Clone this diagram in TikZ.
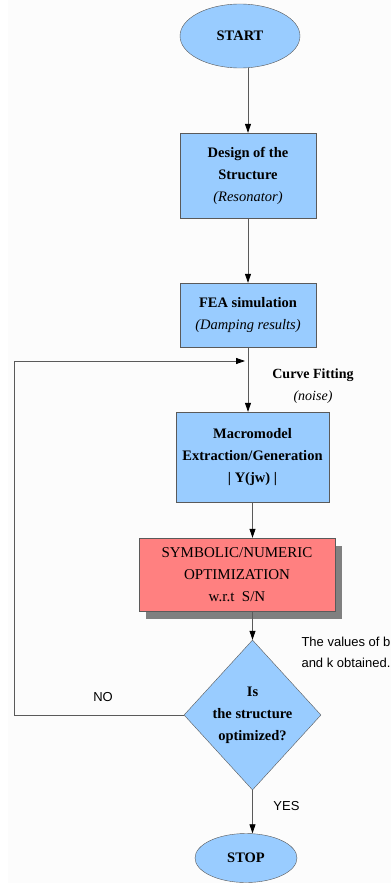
\documentclass[tikz,border=0pt]{standalone}
\usepackage{fontspec}
\setmainfont{Liberation Serif}
\newfontfamily\labelfont{Liberation Sans}
\usetikzlibrary{shapes.geometric,arrows.meta,shadows}
\definecolor{boxblue}{HTML}{99CCFF}
\definecolor{boxred}{HTML}{FF8080}
\definecolor{edgegray}{HTML}{5A5A5A}

\begin{document}
\begin{tikzpicture}[x=1pt,y=-1pt,
  blockfill/.style={draw=edgegray,fill=boxblue,align=center,inner sep=0pt,
    font=\fontsize{14.5}{22}\selectfont\bfseries},
  terminal/.style={blockfill,ellipse},
  process/.style={blockfill,rectangle},
  flow/.style={draw=edgegray,line width=0.8pt,-{Triangle[length=9pt,width=6pt,color=black]}},
  sidenote/.style={font=\fontsize{13}{21}\selectfont\labelfont}]
%% frame
\clip (0,0) rectangle (391,883);
\fill[white] (0,0) rectangle (391,883);
\fill[gray!2] (8,0) rectangle (391,883);
%% blocks
\node[terminal,minimum width=120pt,minimum height=64pt] (start) at (240,36) {START};
\node[process,minimum width=136pt,minimum height=85pt] (design) at (248,175.5)
  {Design of the\\Structure\\{\mdseries\itshape (Resonator)}};
\node[process,minimum width=136pt,minimum height=64pt] (fea) at (248,315)
  {FEA simulation\\{\mdseries\itshape (Damping results)}};
\node[process,minimum width=153pt,minimum height=90pt] (macro) at (252.5,457)
  {Macromodel\\Extraction/Generation\\| Y(jw) |};
\node[process,fill=boxred,font=\fontsize{15}{22}\selectfont,minimum width=196pt,minimum height=73pt,
  drop shadow={shadow xshift=7pt,shadow yshift=-8pt,fill=gray,opacity=1}] (opt) at (237,574.5)
  {SYMBOLIC/NUMERIC\\OPTIMIZATION\\w.r.t~~S/N};
\node[blockfill,diamond,minimum width=137pt,minimum height=150pt] (dec) at (252.5,715)
  {Is\\the structure\\optimized?};
\node[terminal,minimum width=102pt,minimum height=49pt] (stop) at (246,858) {STOP};
%% labels
\node[font=\fontsize{14}{22}\selectfont\bfseries,align=center] (curvefit) at (313,386)
  {Curve Fitting\\{\mdseries\itshape (noise)}};
\node[sidenote,anchor=west,align=left] (values) at (298,652.5) {The values of b\\and k obtained.};
\node[sidenote] (no) at (103,697) {NO};
\node[sidenote] (yes) at (286.5,806) {YES};
%% arrows
\draw[flow] (design.north |- start.south) -- (design.north);
\draw[flow] (design) -- (fea);
\draw[flow] (fea.south) -- (fea.south |- macro.north);
\draw[flow] (macro.south) -- (macro.south |- opt.north);
\draw[flow] (dec.north |- opt.south) -- (dec.north);
\draw[flow] (dec.south) -- (dec.south |- stop.north);
%% back loop
\coordinate (back) at (14,361);
\coordinate (merge) at (245,361);
\draw[flow] (dec.west) -| (back) -- (merge);
\end{tikzpicture}
\end{document}
